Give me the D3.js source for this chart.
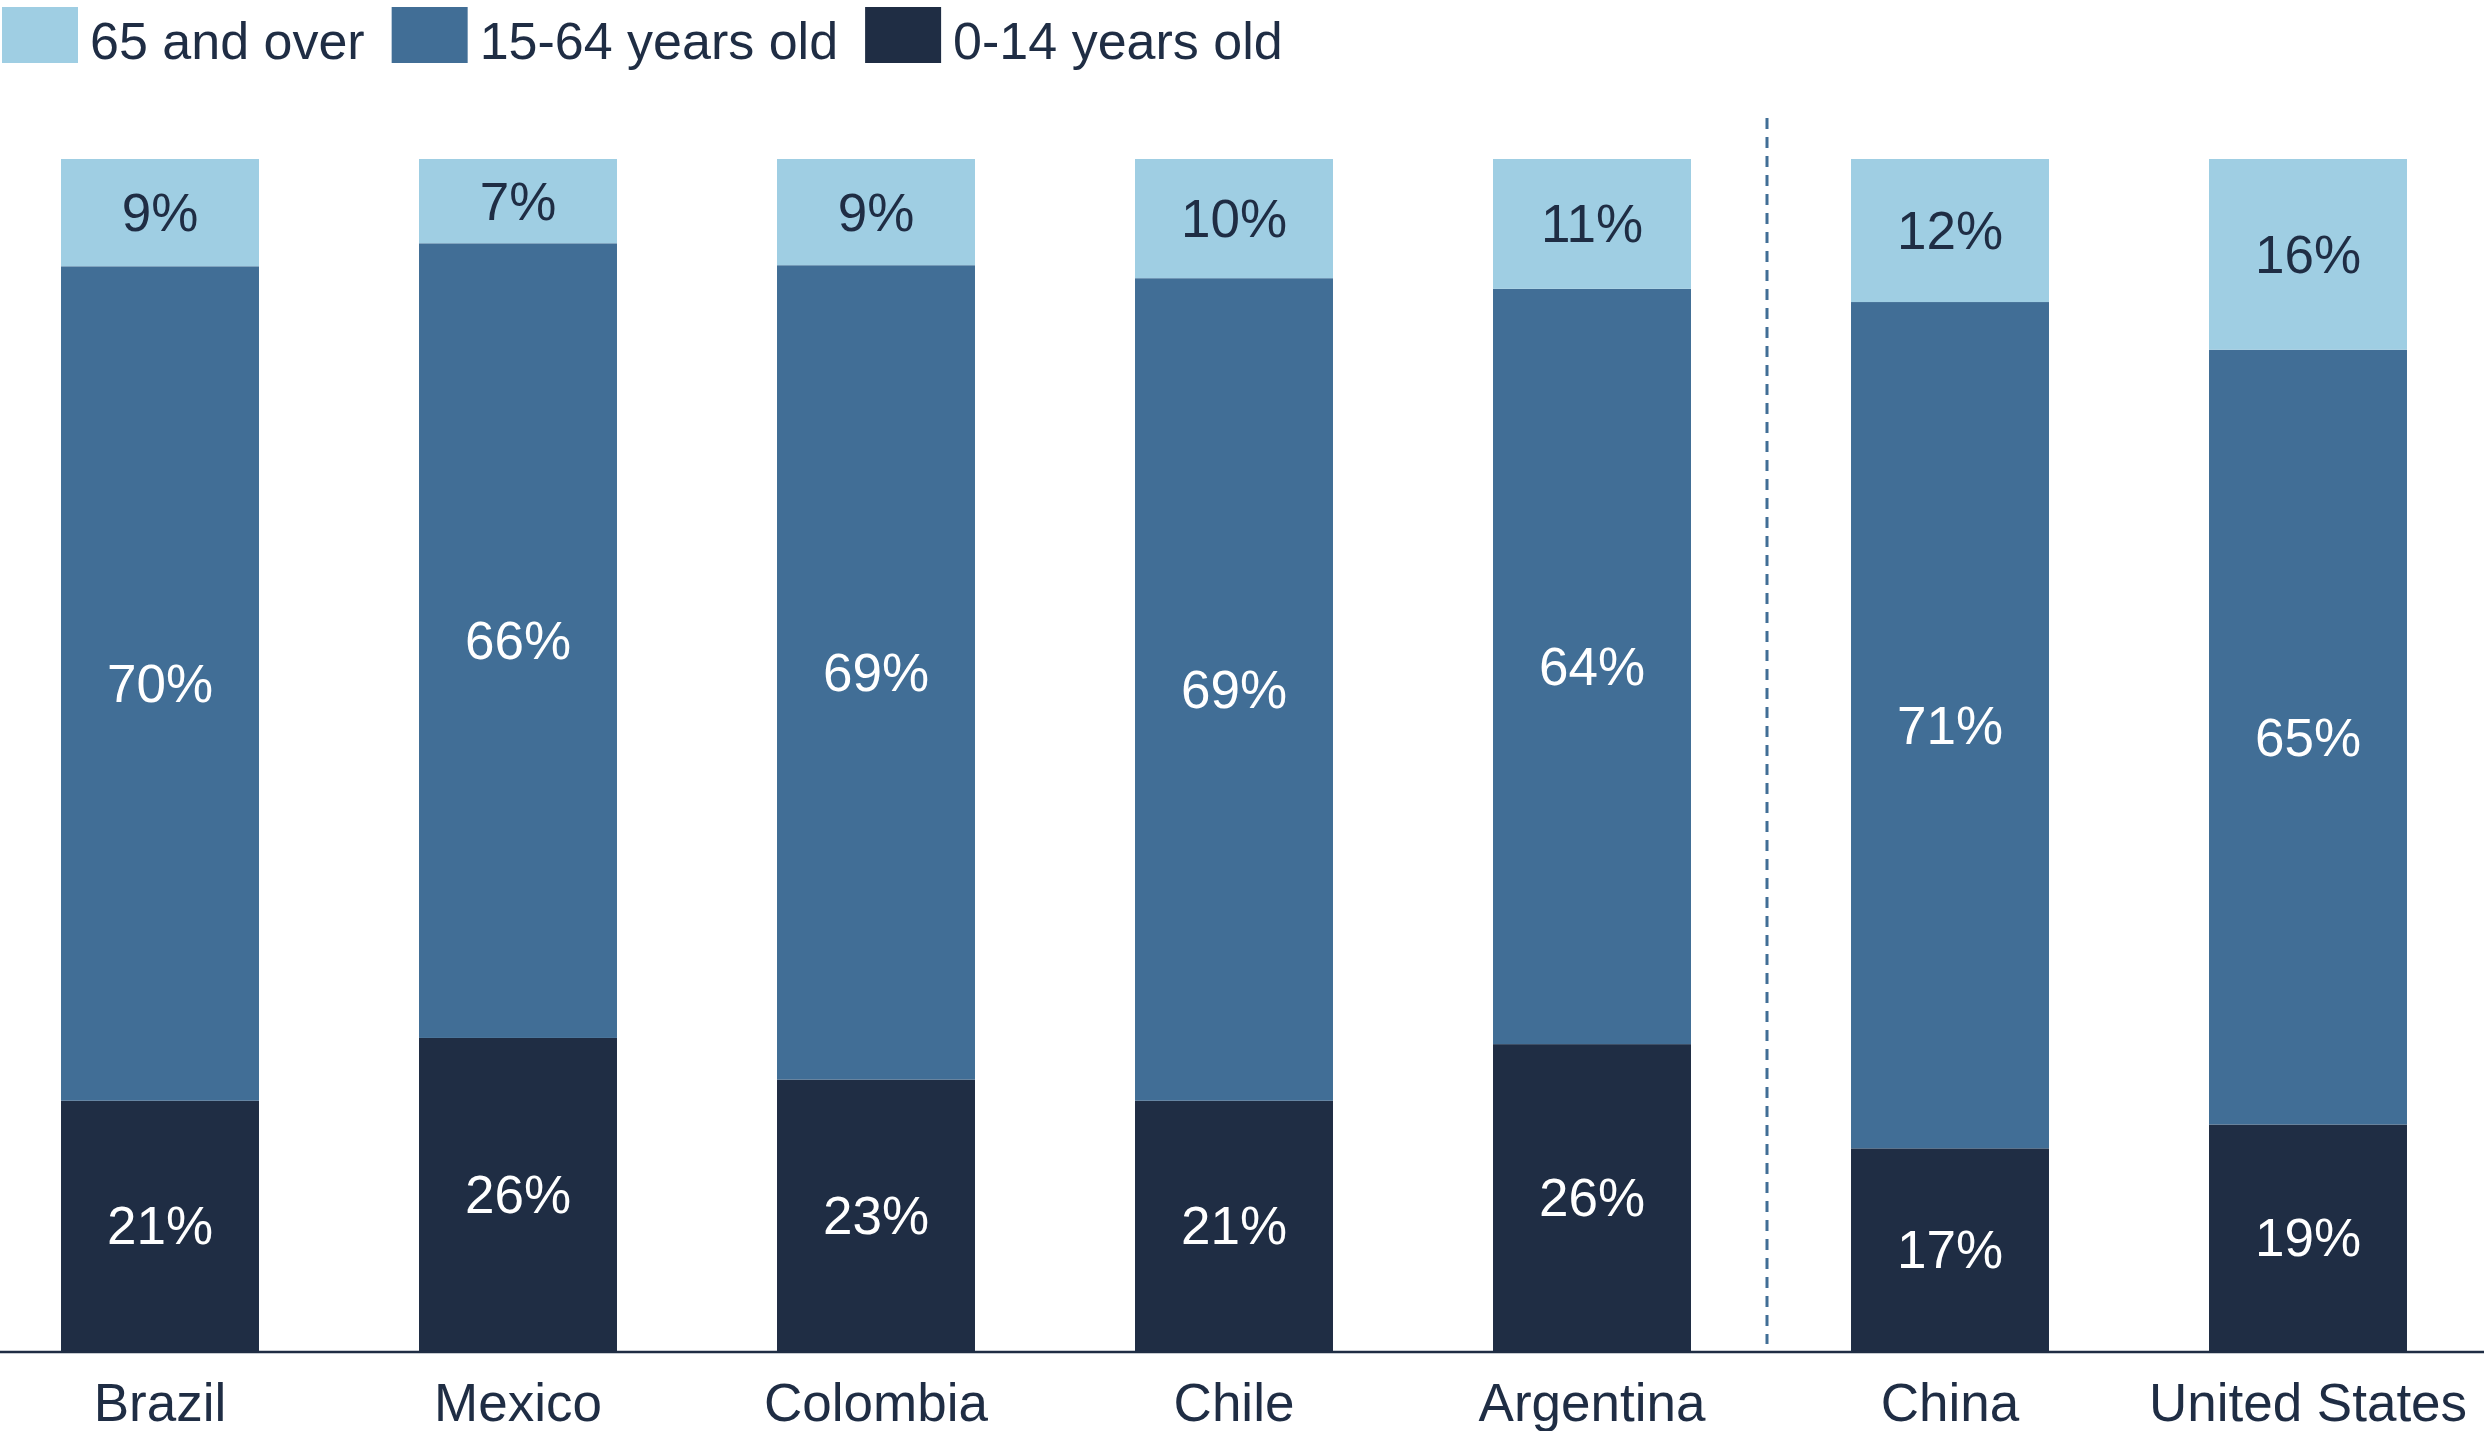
<!DOCTYPE html>
<html>
<head>
<meta charset="utf-8">
<script src="https://cdn.jsdelivr.net/npm/d3@7/dist/d3.min.js"></script>
<style>
  html, body { margin: 0; padding: 0; background: #ffffff; }
  svg { display: block; }
  text { font-family: "Liberation Sans", Arial, sans-serif; }
</style>
</head>
<body>
<svg id="chart" width="2484" height="1431"></svg>
<script>
// Population share by age group (percent)
const countries = ["Brazil", "Mexico", "Colombia", "Chile", "Argentina", "China", "United States"];
const age0to14  = [21, 26, 23, 21, 26, 17, 19];
const age15to64 = [70, 66, 69, 69, 64, 71, 65];
const age65plus = [9, 7, 9, 10, 11, 12, 16];

const seriesKeys   = ["0-14 years old", "15-64 years old", "65 and over"];
const legendOrder  = ["65 and over", "15-64 years old", "0-14 years old"];
const seriesColors = ["#1f2d44", "#416e96", "#9fcee3"];
const labelColors  = ["#ffffff", "#ffffff", "#1f2d44"];
// The comparison group starts after this country
const splitAfter = "Argentina";

const rows = countries.map((c, i) => ({
  country: c,
  "0-14 years old": age0to14[i],
  "15-64 years old": age15to64[i],
  "65 and over": age65plus[i]
}));

const svg = d3.select("#chart");
const W = 2484;
const plotTop = 159, plotBottom = 1351;

const x = d3.scaleBand()
  .domain(countries)
  .range([-19, 2487])
  .paddingInner(0.447)
  .paddingOuter(0.2235);

const y = d3.scaleLinear().domain([0, 1]).range([plotBottom, plotTop]);

const color = d3.scaleOrdinal().domain(seriesKeys).range(seriesColors);
const textColor = d3.scaleOrdinal().domain(seriesKeys).range(labelColors);

const stacked = d3.stack()
  .keys(seriesKeys)
  .offset(d3.stackOffsetExpand)(rows);

const layers = svg.append("g")
  .selectAll("g.layer")
  .data(stacked)
  .join("g")
  .attr("class", "layer")
  .attr("fill", d => color(d.key));

layers.selectAll("rect")
  .data(d => d)
  .join("rect")
  .attr("x", d => x(d.data.country))
  .attr("width", x.bandwidth())
  .attr("y", d => y(d[1]))
  .attr("height", d => y(d[0]) - y(d[1]));

// Value labels, centred in each segment
const labelGroups = svg.append("g")
  .selectAll("g.labels")
  .data(stacked)
  .join("g")
  .attr("class", "labels")
  .attr("fill", d => textColor(d.key));

labelGroups.selectAll("text")
  .data(d => d.map(v => ({ key: d.key, v })))
  .join("text")
  .attr("x", d => x(d.v.data.country) + x.bandwidth() / 2)
  .attr("y", d => (y(d.v[0]) + y(d.v[1])) / 2)
  .attr("dy", "0.35em")
  .attr("text-anchor", "middle")
  .style("font-size", "53px")
  .text(d => d.v.data[d.key] + "%");

// Dashed separator between the two groups
const splitIdx = countries.indexOf(splitAfter);
const sepX = (x(countries[splitIdx]) + x.bandwidth() + x(countries[splitIdx + 1])) / 2 - 4;
svg.append("line")
  .attr("x1", sepX).attr("x2", sepX)
  .attr("y1", 118).attr("y2", 1344)
  .attr("stroke", "#416e96")
  .attr("stroke-width", 3)
  .attr("stroke-dasharray", "11,8");

// Baseline and category axis
const xAxis = d3.axisBottom(x).tickSize(0).tickPadding(0);
const axisG = svg.append("g")
  .attr("transform", `translate(0,${plotBottom})`)
  .call(xAxis);
axisG.select(".domain").remove();
axisG.selectAll("text")
  .attr("dy", null)
  .attr("y", 70)
  .attr("fill", "#1f2d44")
  .style("font-size", "53px")
  .style("font-family", '"Liberation Sans", Arial, sans-serif');

svg.append("line")
  .attr("x1", 0).attr("x2", W)
  .attr("y1", plotBottom + 1).attr("y2", plotBottom + 1)
  .attr("stroke", "#1f2d44")
  .attr("stroke-width", 2.5);

// Legend
const legend = svg.append("g").attr("transform", "translate(2,7)");
let lx = 0;
legendOrder.forEach(key => {
  const g = legend.append("g").attr("transform", `translate(${lx},0)`);
  g.append("rect")
    .attr("width", 76).attr("height", 56)
    .attr("fill", color(key));
  const t = g.append("text")
    .attr("x", 88).attr("y", 52)
    .attr("fill", "#1f2d44")
    .style("font-size", "52px")
    .text(key);
  lx += 88 + t.node().getComputedTextLength() + 27;
});
</script>
</body>
</html>
